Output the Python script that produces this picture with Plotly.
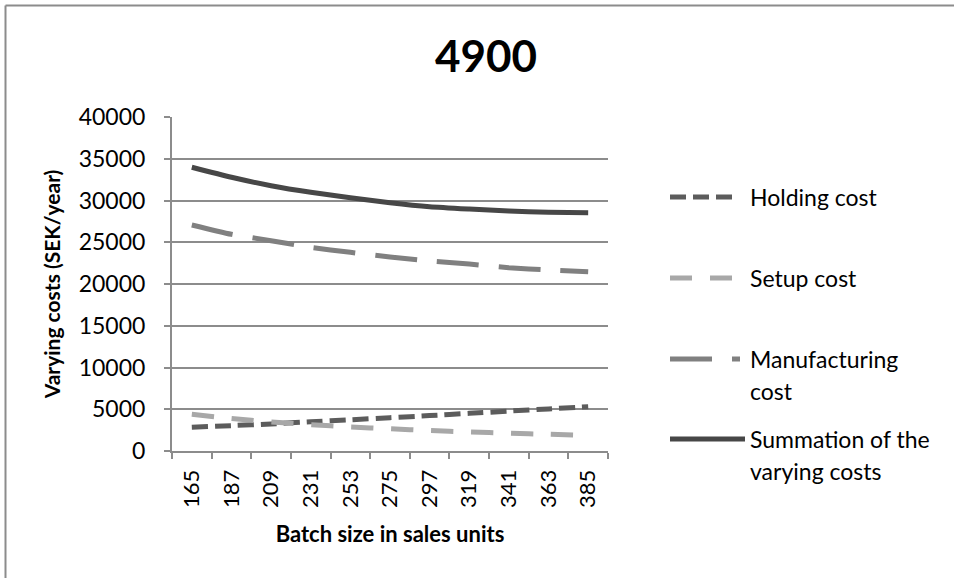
import plotly.graph_objects as go

# Batch sizes (sales units) on the category axis
batch_sizes = ["165", "187", "209", "231", "253", "275", "297", "319", "341", "363", "385"]

# Yearly cost components (SEK/year)
holding_cost = [2840, 3040, 3240, 3500, 3730, 3990, 4240, 4510, 4780, 5040, 5310]
setup_cost = [4390, 3900, 3480, 3150, 2880, 2660, 2450, 2280, 2130, 2000, 1880]
manufacturing_cost = [27070, 25950, 25190, 24390, 23790, 23230, 22750, 22390, 21950, 21680, 21470]
summation_cost = [33980, 32780, 31770, 30980, 30340, 29740, 29260, 28980, 28740, 28590, 28540]

series_names = ["Holding cost", "Setup cost", "Manufacturing cost", "Summation of the varying costs"]
legend_lines = [["Holding cost"], ["Setup cost"], ["Manufacturing", "cost"],
                ["Summation of the", "varying costs"]]

W, H = 954, 578
L, R, T, B = 172, 346, 117, 127
FONT = "Lato"
GRID = "#8c8c8c"

styles = [
    dict(color="#5c5c5c", dash="16px,7px"),
    dict(color="#a8a8a8", dash="22px,18px"),
    dict(color="#808080", dash="42px,20px"),
    dict(color="#474747", dash="solid"),
]

fig = go.Figure()
for name, values, st in zip(series_names,
                            [holding_cost, setup_cost, manufacturing_cost, summation_cost],
                            styles):
    fig.add_trace(go.Scatter(
        x=batch_sizes, y=values, name=name, mode="lines",
        line=dict(color=st["color"], width=5, dash=st["dash"], shape="spline", smoothing=0.6),
        showlegend=False,
    ))

plot_w, plot_h = W - L - R, H - T - B


def px_x(x):
    return (x - L) / plot_w


def px_y(y):
    return (H - B - y) / plot_h


shapes = [
    # chart frame (only its top and left edges fall inside the page)
    dict(type="line", xref="paper", yref="paper",
         x0=px_x(5.5), x1=px_x(W + 20), y0=px_y(5.5), y1=px_y(5.5),
         line=dict(color="#8c8c8c", width=2), layer="below"),
    dict(type="line", xref="paper", yref="paper",
         x0=px_x(5.5), x1=px_x(5.5), y0=px_y(5.5), y1=px_y(H + 20),
         line=dict(color="#8c8c8c", width=2), layer="below"),
]
annotations = []

# hand-built legend: sample line plus label lines
legend_y = [197, 278, 359, 439]
legend_x_end = [733, 733, 740, 745]
for lines, st, ly, xe in zip(legend_lines, styles, legend_y, legend_x_end):
    shapes.append(dict(type="line", xref="paper", yref="paper",
                       x0=px_x(670), x1=px_x(xe), y0=px_y(ly), y1=px_y(ly),
                       line=dict(color=st["color"], width=5, dash=st["dash"])))
    for k, txt in enumerate(lines):
        annotations.append(dict(
            text=txt, xref="paper", yref="paper", x=px_x(748), y=px_y(ly + 32 * k),
            xanchor="left", yanchor="middle", showarrow=False,
            font=dict(family=FONT, size=23, color="#000000"),
        ))

fig.update_layout(
    width=W, height=H,
    margin=dict(l=L, r=R, t=T, b=B, autoexpand=False),
    paper_bgcolor="white", plot_bgcolor="white",
    title=dict(text="<b>4900</b>", x=486 / W, xanchor="center", xref="container",
               y=1 - 57 / H, yanchor="middle", yref="container",
               font=dict(family=FONT, size=44, color="#000000")),
    font=dict(family=FONT, color="#000000"),
    shapes=shapes,
    annotations=annotations,
    showlegend=False,
)

fig.update_xaxes(
    type="category", range=[-0.5, 10.5],
    showline=True, linecolor=GRID, linewidth=2,
    ticks="outside", tickson="boundaries", ticklen=6, tickwidth=2, tickcolor=GRID,
    tickangle=-90, tickfont=dict(family=FONT, size=22, color="#000000"),
    ticklabelstandoff=8,
    showgrid=False, zeroline=False,
    title=dict(text="<b>Batch size in sales units</b>", standoff=20,
               font=dict(family=FONT, size=22, color="#000000")),
)

fig.update_yaxes(
    range=[0, 40000], dtick=5000, tickformat="d",
    showline=True, linecolor=GRID, linewidth=2,
    ticks="outside", ticklen=6, tickwidth=2, tickcolor=GRID,
    tickfont=dict(family=FONT, size=23, color="#000000"),
    ticklabelstandoff=14,
    showgrid=True, gridcolor=GRID, gridwidth=1.5, zeroline=False,
    title=dict(text="<b>Varying costs (SEK/year)</b>", standoff=12,
               font=dict(family=FONT, size=21, color="#000000")),
)

fig.write_html("out.html")
